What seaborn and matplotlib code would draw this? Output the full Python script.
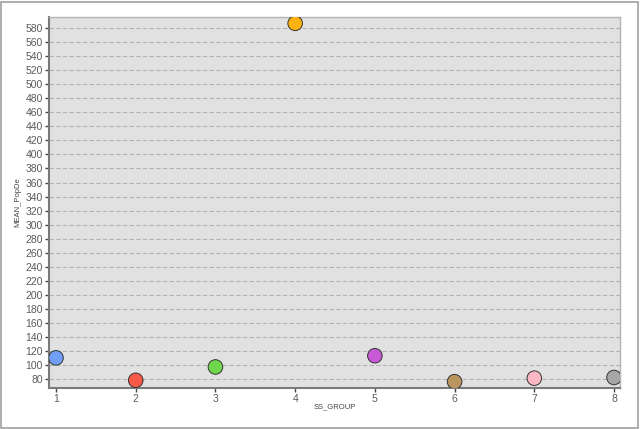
import matplotlib
matplotlib.use("Agg")
import matplotlib.pyplot as plt
import seaborn as sns
import pandas as pd
from matplotlib.patches import Rectangle

groups = [1, 2, 3, 4, 5, 6, 7, 8]
mean_popde = [110, 78, 97, 587, 113, 76, 81, 82]
colors = ["#6f9ff7", "#f85a4a", "#6fd84a", "#ffb20f", "#c85ad8", "#bb9560", "#fbb8c4", "#a6a6a6"]
yticks = list(range(80, 581, 20))

df = pd.DataFrame({"SS_GROUP": groups, "MEAN_PopDe": mean_popde})

sns.set_style("white")
plt.rcParams["font.family"] = ["Liberation Sans", "DejaVu Sans"]

fig = plt.figure(figsize=(6.4, 4.29), dpi=100)
fig.patches.append(Rectangle((1/640, 1/429), 637/640, 426/429, transform=fig.transFigure,
                             fill=False, edgecolor="#a0a0a0", linewidth=1.2))
ax = fig.add_axes([49/640, 41/429, 571/640, 371/429])
ax.set_facecolor("#e1e1e1")

sns.scatterplot(data=df, x="SS_GROUP", y="MEAN_PopDe", hue="SS_GROUP",
                palette=colors, s=110, edgecolor="#333333", linewidth=0.7,
                legend=False, ax=ax, zorder=3)

ax.set_xlim(0.912, 8.075)
ax.set_ylim(67, 596)
ax.set_yticks(yticks)
ax.set_xticks(groups)
ax.yaxis.grid(True, color="#b2b2b2", linestyle=(0, (4, 2)), linewidth=0.8)
ax.xaxis.grid(False)
ax.set_axisbelow(True)

for side in ["left", "bottom"]:
    ax.spines[side].set_color("#7a7a7a")
    ax.spines[side].set_linewidth(1.5)
for side in ["top", "right"]:
    ax.spines[side].set_color("#b5b5b5")
    ax.spines[side].set_linewidth(1.0)

ax.tick_params(axis="both", which="major", length=3, width=1, color="#444444",
               labelsize=7.5, labelcolor="#5a5a5a", pad=1.5, direction="out",
               left=True, bottom=True)
ax.set_xlabel("SS_GROUP", fontsize=5.5, color="#444444")
ax.set_ylabel("MEAN_PopDe", fontsize=5.5, color="#444444")
ax.xaxis.set_label_coords(0.5, -0.040)
ax.yaxis.set_label_coords(-0.048, 0.5)

fig.savefig("out.png", dpi=100)
